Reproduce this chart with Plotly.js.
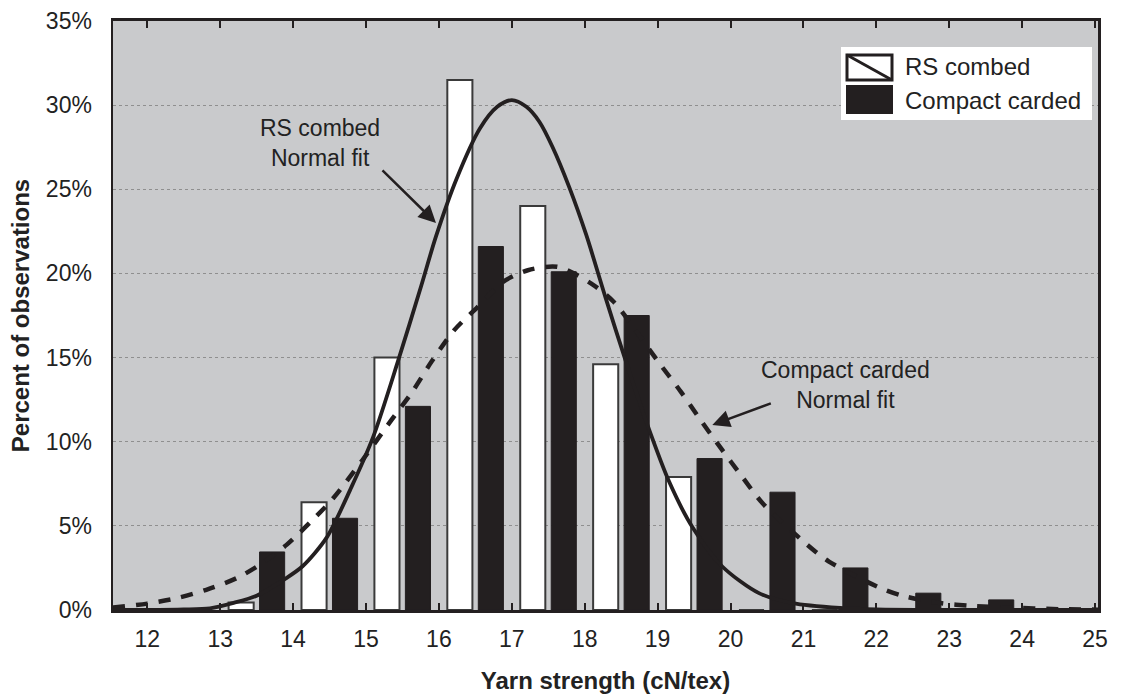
<!DOCTYPE html>
<html>
<head>
<meta charset="utf-8">
<script src="https://cdn.plot.ly/plotly-3.0.1.min.js"></script>
<style>
  html, body { margin: 0; padding: 0; background: #ffffff; }
  #chart { width: 1126px; height: 696px; }
</style>
</head>
<body>
<div id="chart"></div>
<script>
// ---------- DATA ----------
// histogram bins: bin centres (bin n spans n .. n+1)
const binCenters = [12.5, 13.5, 14.5, 15.5, 16.5, 17.5, 18.5, 19.5, 20.5, 21.5, 22.5, 23.5];
// percent of observations in each bin
const rsCombed      = [0.0, 0.45, 6.4, 15.0, 31.5, 24.0, 14.6, 7.9, 0.0, 0.0, 0.0, 0.0];
const compactCarded = [0.0, 3.45, 5.45, 12.1, 21.6, 20.1, 17.5, 9.0, 7.0, 2.5, 1.0, 0.6];

// normal-fit curves, points
const rsFitX = [11.53, 12.0, 12.5, 12.86, 13.17, 13.5, 13.89, 14.13, 14.46, 14.8, 15.1, 15.44, 15.76, 15.96, 16.24, 16.56, 16.8, 17.0, 17.2, 17.38, 17.56, 17.79, 18.02, 18.29, 18.57, 18.86, 19.16, 19.48, 19.89, 20.39, 20.85, 21.5, 22.0, 23.0, 25.04];
const rsFitY = [0.0, 0.0, 0.03, 0.1, 0.41, 0.85, 1.85, 2.6, 4.3, 7.3, 10.3, 14.8, 19.3, 22.2, 25.6, 28.6, 29.9, 30.3, 29.9, 29.0, 27.5, 25.1, 22.3, 18.5, 14.7, 11.0, 7.6, 4.9, 2.57, 1.0, 0.41, 0.12, 0.03, 0.0, 0.0];

const ccFitX = [11.53, 12.0, 12.4, 12.81, 13.23, 13.54, 13.91, 14.27, 14.55, 14.95, 15.35, 15.62, 15.9, 16.21, 16.53, 16.88, 17.22, 17.63, 18.09, 18.4, 18.7, 19.0, 19.32, 19.59, 19.87, 20.14, 20.44, 21.03, 21.35, 22.06, 22.4, 22.88, 23.3, 23.81, 24.5, 25.04];
const ccFitY = [0.15, 0.38, 0.7, 1.2, 1.9, 2.68, 3.87, 5.36, 6.64, 8.9, 11.3, 12.87, 14.76, 16.63, 18.0, 19.5, 20.19, 20.39, 19.4, 18.3, 16.6, 14.8, 12.96, 11.28, 9.6, 8.03, 6.34, 3.96, 2.88, 1.3, 0.8, 0.41, 0.25, 0.15, 0.05, 0.02];

const xTickVals = [12, 13, 14, 15, 16, 17, 18, 19, 20, 21, 22, 23, 24, 25];
const yTickVals = [0, 5, 10, 15, 20, 25, 30, 35];
const yTickText = ['0%', '5%', '10%', '15%', '20%', '25%', '30%', '35%'];

const seriesNames = ['RS combed', 'Compact carded'];
const fitLabels = ['RS combed<br>Normal fit', 'Compact carded<br>Normal fit'];
const xTitle = 'Yarn strength (cN/tex)';
const yTitle = 'Percent of observations';

// ---------- LAYOUT ----------
const W = 1126, H = 696;
const M = { l: 113, r: 28, t: 21, b: 86 };
const PW = W - M.l - M.r, PH = H - M.t - M.b;
const px = x => (x - M.l) / PW;          // pixel -> paper x
const py = y => (M.t + PH - y) / PH;     // pixel -> paper y

const NARROW = '"Liberation Sans Narrow", "Arial Narrow", "Liberation Sans", Arial, sans-serif';
const SANS = '"Liberation Sans", Arial, sans-serif';
const INK = '#231f20';

const traces = [
  {
    type: 'bar', name: seriesNames[0], x: binCenters, y: rsCombed,
    marker: { color: '#ffffff', line: { color: '#3a3a3a', width: 2 } },
    showlegend: false, hoverinfo: 'skip'
  },
  {
    type: 'bar', name: seriesNames[1], x: binCenters, y: compactCarded,
    marker: { color: INK, line: { color: INK, width: 1 } },
    showlegend: false, hoverinfo: 'skip'
  },
  {
    type: 'scatter', mode: 'lines', name: 'Compact carded Normal fit',
    x: ccFitX, y: ccFitY,
    line: { color: INK, width: 4.5, dash: '12px,11px', shape: 'spline', smoothing: 0.8 },
    showlegend: false, hoverinfo: 'skip', cliponaxis: true
  },
  {
    type: 'scatter', mode: 'lines', name: 'RS combed Normal fit',
    x: rsFitX, y: rsFitY,
    line: { color: INK, width: 3.8, shape: 'spline', smoothing: 0.8 },
    showlegend: false, hoverinfo: 'skip', cliponaxis: true
  }
];

const shapes = [
  // legend box
  { type: 'rect', xref: 'paper', yref: 'paper', x0: px(841), x1: px(1092), y0: py(120), y1: py(47),
    fillcolor: '#ffffff', line: { width: 0 }, layer: 'above' },
  // RS combed swatch
  { type: 'rect', xref: 'paper', yref: 'paper', x0: px(847), x1: px(892), y0: py(80), y1: py(55),
    fillcolor: '#ffffff', line: { color: INK, width: 3 }, layer: 'above' },
  { type: 'line', xref: 'paper', yref: 'paper', x0: px(847), x1: px(892), y0: py(55), y1: py(80),
    line: { color: INK, width: 3 }, layer: 'above' },
  // Compact carded swatch
  { type: 'rect', xref: 'paper', yref: 'paper', x0: px(847), x1: px(892), y0: py(113), y1: py(86),
    fillcolor: INK, line: { color: INK, width: 2 }, layer: 'above' }
];

const annotations = [
  { xref: 'paper', yref: 'paper', x: px(903), y: py(66), xanchor: 'left', yanchor: 'middle',
    text: seriesNames[0], showarrow: false, font: { family: SANS, size: 24, color: '#222' } },
  { xref: 'paper', yref: 'paper', x: px(903), y: py(100), xanchor: 'left', yanchor: 'middle',
    text: seriesNames[1], showarrow: false, font: { family: SANS, size: 24, color: '#222' } },
  // fit labels
  { xref: 'paper', yref: 'paper', x: px(320), y: py(143), xanchor: 'center', yanchor: 'middle',
    text: fitLabels[0], showarrow: false, align: 'center', font: { family: SANS, size: 23, color: '#222' } },
  { xref: 'paper', yref: 'paper', x: px(845), y: py(385), xanchor: 'center', yanchor: 'middle',
    text: fitLabels[1], showarrow: false, align: 'center', font: { family: SANS, size: 23, color: '#222' } },
  // arrows pointing at the curves
  { xref: 'x', yref: 'y', x: 15.96, y: 23.0, ax: -55, ay: -54, text: '', showarrow: true,
    arrowhead: 2, arrowsize: 1.4, arrowwidth: 2.5, arrowcolor: INK, standoff: 0 },
  { xref: 'x', yref: 'y', x: 19.75, y: 11.0, ax: 60, ay: -22, text: '', showarrow: true,
    arrowhead: 2, arrowsize: 1.4, arrowwidth: 2.5, arrowcolor: INK, standoff: 0 }
];

const layout = {
  width: W, height: H,
  margin: M,
  paper_bgcolor: '#ffffff',
  plot_bgcolor: '#c9cacc',
  barmode: 'group',
  bargap: 0.15,
  bargroupgap: 0.19,
  showlegend: false,
  xaxis: {
    range: [11.53, 25.04],
    tickmode: 'array', tickvals: xTickVals, ticktext: xTickVals.map(String),
    ticks: 'inside', ticklen: 7, tickwidth: 2, tickcolor: INK,
    showline: true, linecolor: INK, linewidth: 3, mirror: 'ticks',
    showgrid: false, zeroline: false,
    tickfont: { family: NARROW, size: 23, color: '#222' },
    ticklabelstandoff: 6,
    title: { text: xTitle, font: { family: NARROW, size: 24, color: '#222', weight: 'bold' }, standoff: 22 }
  },
  yaxis: {
    range: [0, 35],
    tickmode: 'array', tickvals: yTickVals, ticktext: yTickText,
    ticks: '', showline: true, linecolor: INK, linewidth: 2.5, mirror: true,
    showgrid: true, gridcolor: '#8f8f8f', gridwidth: 1, griddash: 'dot',
    zeroline: false,
    tickfont: { family: NARROW, size: 23, color: '#222' },
    ticklabelstandoff: 14,
    title: { text: yTitle, font: { family: NARROW, size: 24, color: '#222', weight: 'bold' }, standoff: 10 }
  },
  shapes: shapes,
  annotations: annotations
};

Plotly.newPlot('chart', traces, layout, { displayModeBar: false, staticPlot: true });
</script>
</body>
</html>
